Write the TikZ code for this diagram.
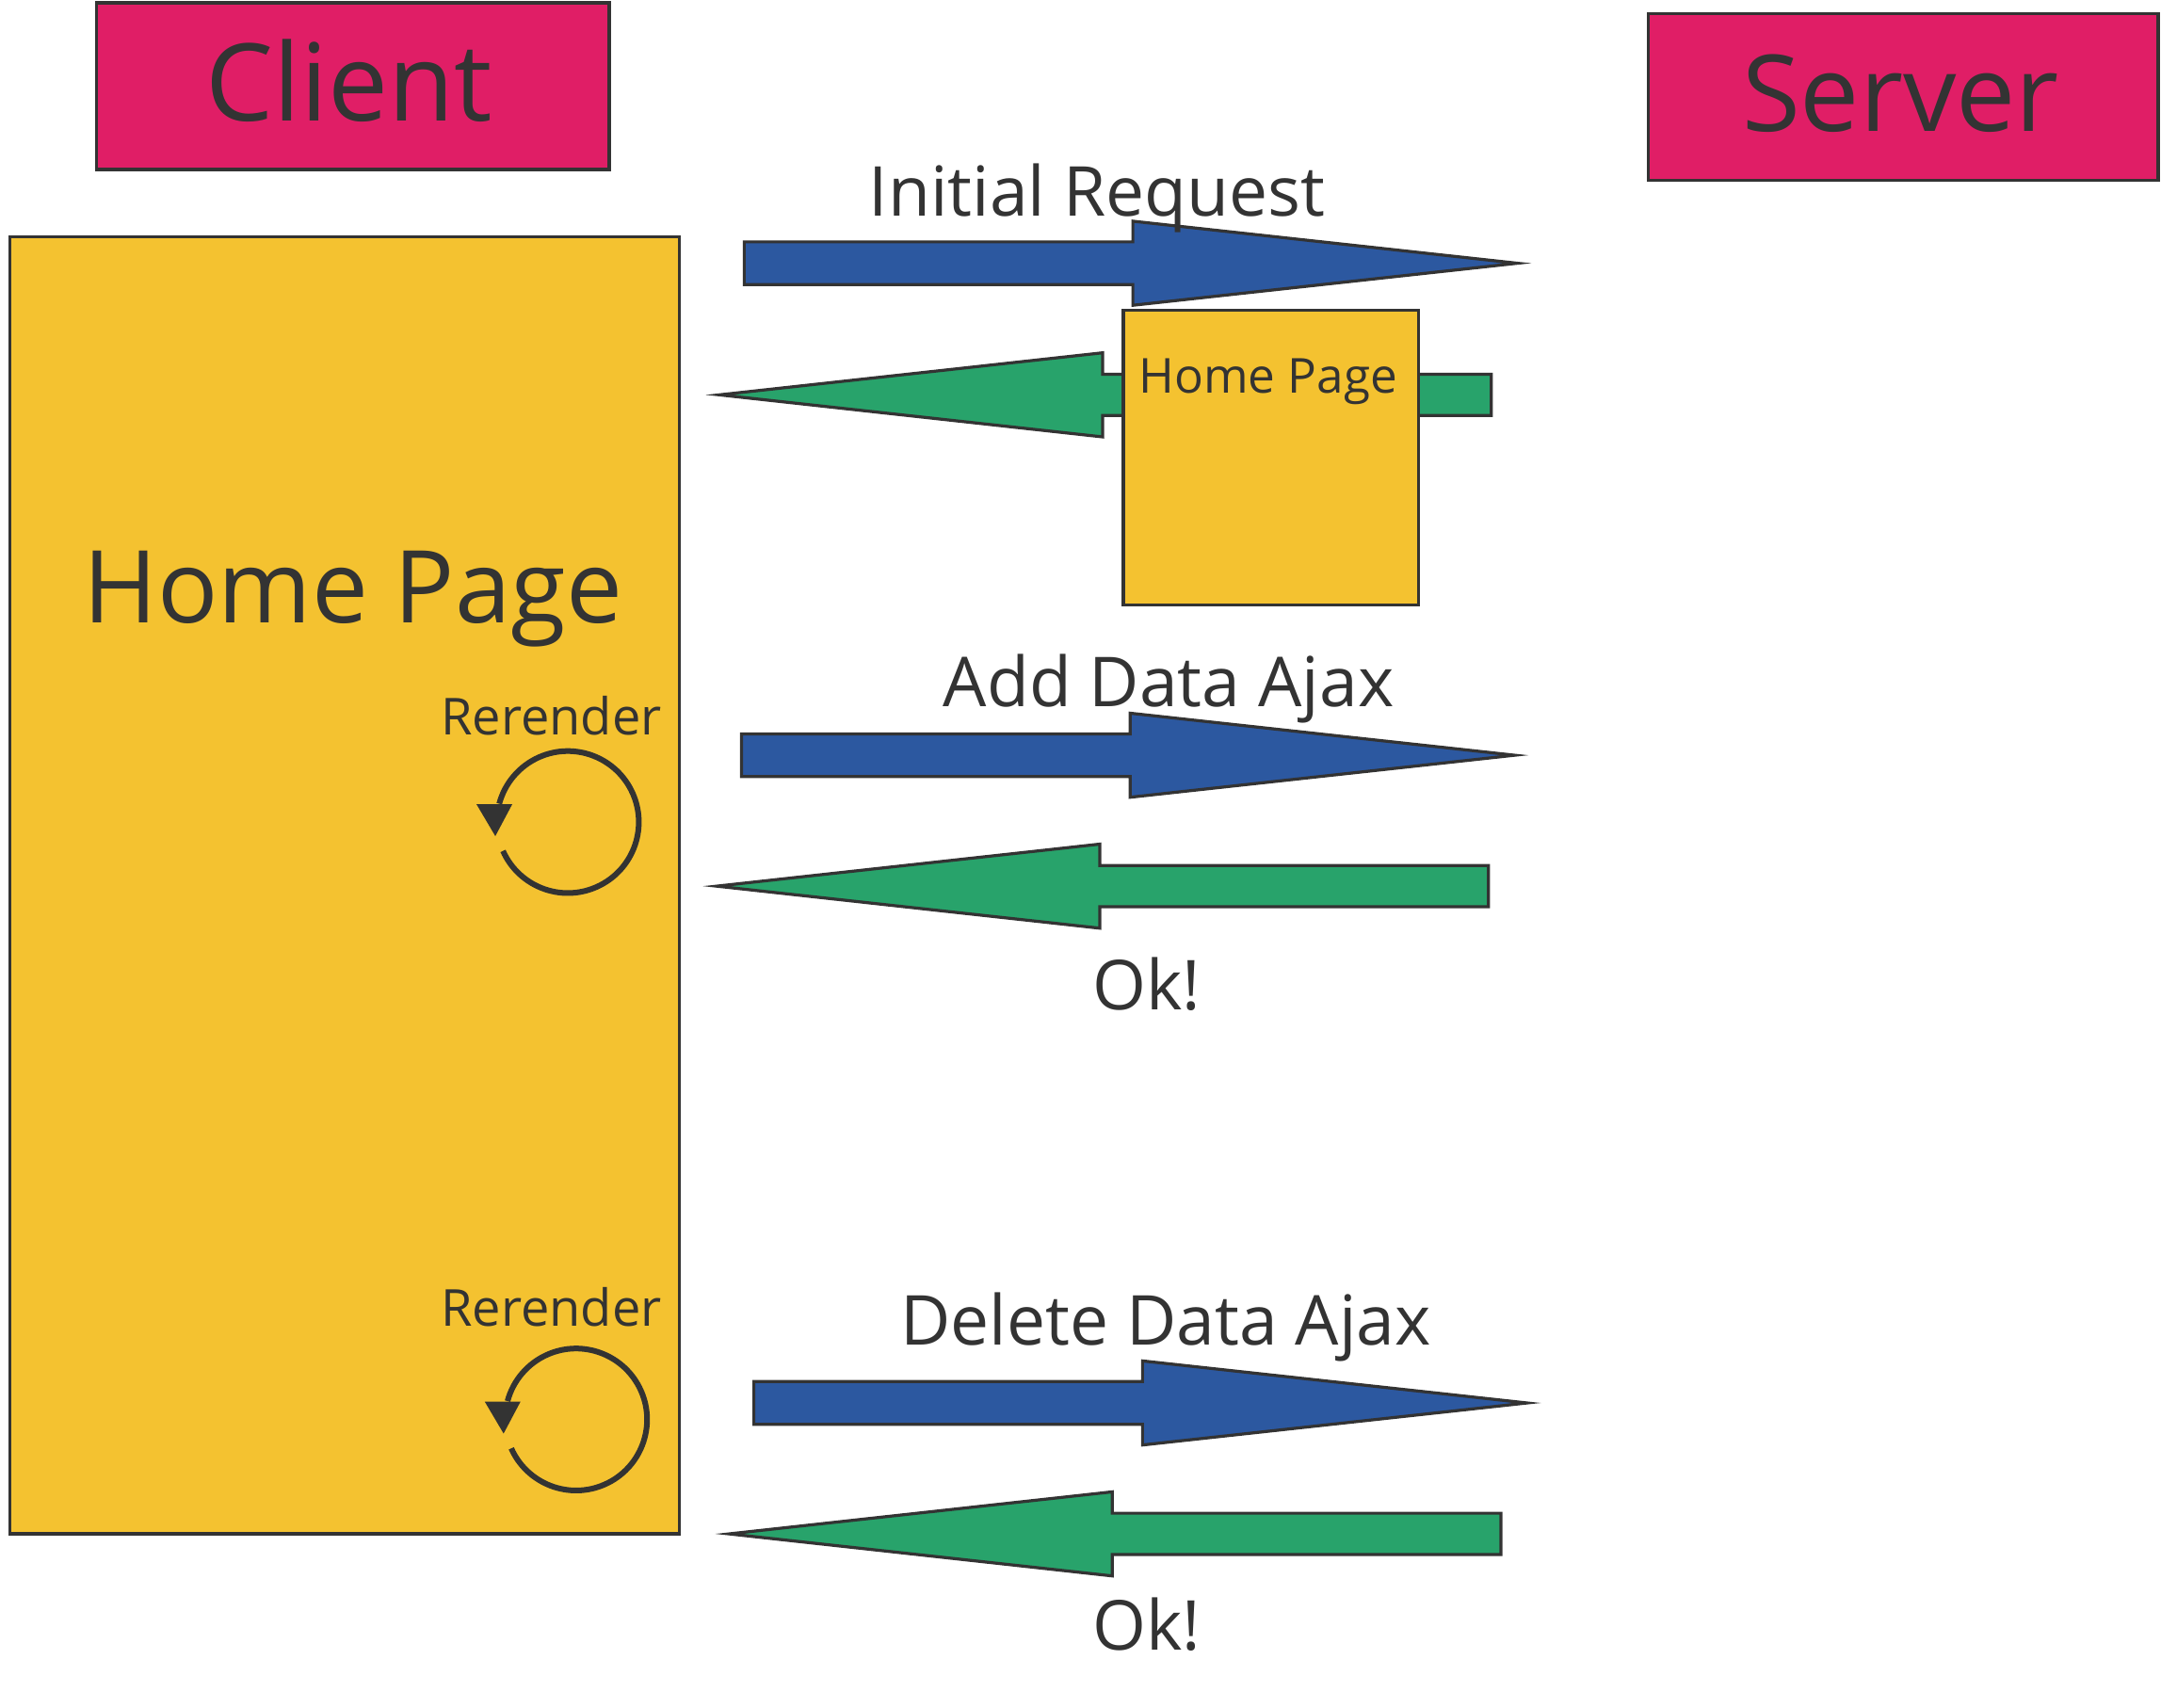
\documentclass[tikz,border=0pt]{standalone}
\usepackage{fontspec}
\setmainfont{Open Sans}
\usetikzlibrary{arrows.meta}
\definecolor{magentabox}{HTML}{E01E66}
\definecolor{yellowbox}{HTML}{F4C230}
\definecolor{bluearr}{HTML}{2C58A0}
\definecolor{greenarr}{HTML}{28A36B}
\definecolor{ink}{HTML}{333333}
% right-pointing block arrow: L, B (head base), T (tip), c (centre y)
\newcommand\myRArrow[4]{%
  \draw[blockarrow, fill=bluearr] (#1,#4-15.5) -- (#2,#4-15.5) -- (#2,#4-30.5) -- (#3,#4) -- (#2,#4+30.5) -- (#2,#4+15.5) -- (#1,#4+15.5) -- cycle;}
% left-pointing block arrow: T (tip), B (head base), R (right end), c
\newcommand\myLArrow[4]{%
  \draw[blockarrow, fill=greenarr] (#1,#4) -- (#2,#4-30.5) -- (#2,#4-15) -- (#3,#4-15) -- (#3,#4+15) -- (#2,#4+15) -- (#2,#4+30.5) -- cycle;}
% rerender loop around centre coordinate
\newcommand\myLoop[1]{%
  \draw[loopline] (#1) ++(156:51.5) arc[start angle=156, end angle=-165, radius=51.5];
  \fill[ink] ($(#1)+(-66.3,-13)$) -- ($(#1)+(-40.3,-13)$) -- ($(#1)+(-52.6,10.2)$) -- cycle;}
\usetikzlibrary{calc}
\tikzset{
  box/.style={draw=ink, line width=1.1pt, inner sep=0pt},
  blockarrow/.style={draw=ink, line width=1.1pt, line join=miter},
  lbl/.style={text=ink, inner sep=0pt, anchor=base},
  loopline/.style={draw=ink, line width=2.05pt},
}
\begin{document}
\begin{tikzpicture}[x=0.5pt, y=-0.5pt]
\useasboundingbox (0,0) rectangle (1568,1238.7);
% boxes
\node[box, fill=yellowbox, minimum width=243pt, minimum height=470.5pt] (home) at (250,642.5) {};
\node[box, fill=magentabox, minimum width=186pt, minimum height=60.5pt] (client) at (256,62.5) {};
\node[box, fill=magentabox, minimum width=185pt, minimum height=60.5pt] (server) at (1381,70.5) {};
\node[lbl, font=\fontsize{39pt}{44pt}\selectfont] (clientlbl) at (253,88) {Client};
\node[lbl, font=\fontsize{38.5pt}{44pt}\selectfont] (serverlbl) at (1379,95) {Server};
\node[lbl, font=\fontsize{36.5pt}{42pt}\selectfont] (homelbl) at (256,452) {Home Page};
% arrows
\myRArrow{540}{822}{1101}{191}
\myLArrow{522}{800}{1082}{286.5}
\node[box, fill=yellowbox, minimum width=107pt, minimum height=107pt] (small) at (922,332) {};
\node[lbl, font=\fontsize{17.5pt}{20pt}\selectfont] (smalllbl) at (920,285) {Home Page};
\node[lbl, font=\fontsize{25pt}{30pt}\selectfont] (req) at (796,157) {Initial Request};
\myRArrow{538}{820}{1099}{548}
\myLArrow{520}{798}{1080}{643}
\node[lbl, font=\fontsize{25pt}{30pt}\selectfont] (add) at (848,513) {Add Data Ajax};
\node[lbl, font=\fontsize{25pt}{30pt}\selectfont] (ok1) at (832,733) {Ok!};
\myRArrow{547}{829}{1108}{1018}
\myLArrow{529}{807}{1089}{1113}
\node[lbl, font=\fontsize{25pt}{30pt}\selectfont] (del) at (846,976) {Delete Data Ajax};
\node[lbl, font=\fontsize{25pt}{30pt}\selectfont] (ok2) at (832,1197) {Ok!};
% rerender loops
\node[lbl, font=\fontsize{18.5pt}{22pt}\selectfont] (rr1) at (400,533) {Rerender};
\coordinate (c1) at (412,596.5);
\myLoop{c1}
\node[lbl, font=\fontsize{18.5pt}{22pt}\selectfont] (rr2) at (400,962) {Rerender};
\coordinate (c2) at (418,1030);
\myLoop{c2}
\end{tikzpicture}
\end{document}
